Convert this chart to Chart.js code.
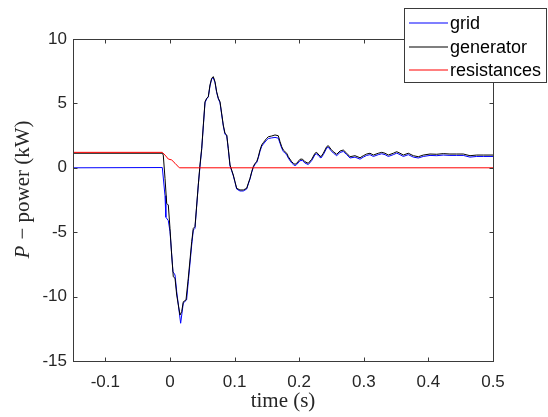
<!DOCTYPE html>
<html>
<head>
<meta charset="utf-8">
<script src="https://cdn.jsdelivr.net/npm/chart.js@4.4.1/dist/chart.umd.min.js"></script>
<style>
html,body{margin:0;padding:0;background:#fff;}
canvas{display:block;}
</style>
</head>
<body>
<canvas id="c" width="548" height="417"></canvas>
<script>
// ---- data (time in s, power in kW) ----
const seriesNames = ["grid", "generator", "resistances"];

const tGenerator = [-0.15, -0.0118, -0.0103, -0.0076, -0.005, -0.0025, 0.0001, 0.0027, 0.0052, 0.0079, 0.0105, 0.0156, 0.0182, 0.0207, 0.0249, 0.0284, 0.0337, 0.0362, 0.0388, 0.0439, 0.0465,
  0.0492, 0.0517, 0.0543, 0.0569, 0.0594, 0.0620, 0.0646, 0.0671, 0.0698, 0.0723, 0.0749, 0.0775, 0.0826, 0.0852, 0.0879, 0.0903, 0.0930, 0.0955, 0.0981, 0.1007,
  0.1033, 0.1084, 0.1136, 0.1188, 0.1213, 0.1239, 0.1266, 0.1290, 0.1317, 0.1343, 0.1368, 0.1394, 0.1420, 0.1445, 0.1498, 0.1523, 0.1575, 0.1626, 0.1677, 0.1704,
  0.1730, 0.1755, 0.1781, 0.1808, 0.1832, 0.1885, 0.1910, 0.1936, 0.1962, 0.2013, 0.2049, 0.2090, 0.2141, 0.2194, 0.2245, 0.2271, 0.2307, 0.2338, 0.2374, 0.2426,
  0.2451, 0.2493, 0.2528, 0.2581, 0.2632, 0.2683, 0.2736, 0.2787, 0.2864, 0.2942, 0.2993, 0.3045, 0.3096, 0.3148, 0.3225, 0.3278, 0.3329, 0.3380, 0.3457, 0.3510,
  0.3561, 0.3612, 0.3689, 0.3767, 0.3844, 0.3921, 0.4025, 0.4129, 0.4231, 0.4334, 0.4438, 0.4540, 0.4644, 0.4748, 0.4850, 0.4954, 0.5];
const pGenerator = [1.13, 1.13, 0.99, -0.82, -2.76, -2.89, -4.70, -6.77, -8.46, -8.58, -9.88, -11.43, -11.17, -10.40, -10.26, -8.58, -5.74, -4.70, -4.57, -1.34, 0.22,
  1.51, 3.32, 5.13, 5.40, 5.52, 6.43, 6.95, 7.08, 6.68, 5.91, 5.40, 5.13, 3.32, 2.68, 2.55, 1.51, 0.22, -0.17, -0.56, -1.08,
  -1.59, -1.72, -1.72, -1.59, -1.20, -0.82, -0.30, 0.09, 0.35, 0.47, 0.86, 1.38, 1.77, 1.95, 2.29, 2.41, 2.47, 2.55, 2.49, 2.03,
  1.64, 1.38, 1.25, 1.13, 0.86, 0.47, 0.35, 0.27, 0.35, 0.66, 0.68, 0.47, 0.35, 0.66, 1.13, 1.20, 0.99, 0.86, 1.13, 1.64,
  1.72, 1.44, 1.25, 1.05, 1.30, 1.38, 1.13, 0.86, 0.94, 0.78, 0.94, 1.07, 1.13, 0.99, 1.13, 1.20, 1.13, 0.99, 1.13, 1.25,
  1.13, 0.99, 1.13, 0.94, 0.86, 0.99, 1.07, 1.05, 1.10, 1.07, 1.07, 1.07, 0.94, 0.99, 0.99, 0.99, 0.99];

const tGrid = [-0.15, -0.0118, -0.0076, -0.0063, -0.0025, 0.0001, 0.0047, 0.0079, 0.0105, 0.0166, 0.0207, 0.0258, 0.0284, 0.0337, 0.0362, 0.0388, 0.0439, 0.0465,
  0.0492, 0.0517, 0.0543, 0.0569, 0.0594, 0.0620, 0.0646, 0.0671, 0.0698, 0.0723, 0.0749, 0.0775, 0.0826, 0.0852, 0.0879, 0.0903, 0.0930, 0.0955, 0.0981, 0.1007,
  0.1033, 0.1084, 0.1136, 0.1188, 0.1213, 0.1239, 0.1266, 0.1290, 0.1317, 0.1343, 0.1368, 0.1394, 0.1420, 0.1445, 0.1498, 0.1523, 0.1575, 0.1626, 0.1677, 0.1704,
  0.1730, 0.1755, 0.1781, 0.1808, 0.1832, 0.1885, 0.1910, 0.1936, 0.1962, 0.2013, 0.2049, 0.2090, 0.2141, 0.2194, 0.2245, 0.2271, 0.2307, 0.2338, 0.2374, 0.2426,
  0.2451, 0.2493, 0.2528, 0.2581, 0.2632, 0.2683, 0.2736, 0.2787, 0.2864, 0.2942, 0.2993, 0.3045, 0.3096, 0.3148, 0.3225, 0.3278, 0.3329, 0.3380, 0.3457, 0.3510,
  0.3561, 0.3612, 0.3689, 0.3767, 0.3844, 0.3921, 0.4025, 0.4129, 0.4231, 0.4334, 0.4438, 0.4540, 0.4644, 0.4748, 0.4850, 0.4954, 0.5];
const pGrid = [0, 0.02, -2.17, -3.83, -4.10, -4.95, -8.06, -8.32, -9.62, -12.07, -10.50, -10.26, -8.84, -6.00, -4.83, -4.70, -1.34, 0.09,
  1.45, 3.25, 5.05, 5.35, 5.50, 6.35, 6.90, 7.00, 6.60, 5.85, 5.35, 5.05, 3.25, 2.60, 2.50, 1.45, 0.15, -0.22, -0.62, -1.12,
  -1.65, -1.80, -1.80, -1.65, -1.26, -0.88, -0.36, 0.02, 0.28, 0.40, 0.78, 1.28, 1.66, 1.84, 2.16, 2.27, 2.32, 2.36, 2.30, 1.90,
  1.52, 1.27, 1.13, 1.01, 0.75, 0.37, 0.25, 0.17, 0.25, 0.55, 0.57, 0.37, 0.25, 0.56, 1.02, 1.09, 0.88, 0.76, 1.02, 1.53,
  1.60, 1.33, 1.15, 0.94, 1.19, 1.27, 1.02, 0.76, 0.83, 0.67, 0.83, 0.96, 1.02, 0.88, 1.02, 1.09, 1.02, 0.88, 1.02, 1.14,
  1.02, 0.88, 1.02, 0.83, 0.76, 0.88, 0.96, 0.94, 0.99, 0.96, 0.96, 0.96, 0.83, 0.88, 0.88, 0.88, 0.88];

const tResistances = [-0.15, -0.0118, -0.0076, -0.0025, 0.0027, 0.0079, 0.0146, 0.5];
const pResistances = [1.2, 1.2, 0.99, 0.68, 0.61, 0.35, 0.0, 0.0];

const xTickValues = [-0.1, 0, 0.1, 0.2, 0.3, 0.4, 0.5];
const xTickLabels = ["-0.1", "0", "0.1", "0.2", "0.3", "0.4", "0.5"];
const yTickValues = [-15, -10, -5, 0, 5, 10];
const yTickLabels = ["-15", "-10", "-5", "0", "5", "10"];
const xLimits = [-0.15, 0.5];
const yLimits = [-15, 10];
const xTitle = "time (s)";
const yTitleVar = "P";
const yTitleRest = " \u2212 power (kW)";

// ---- styling ----
const AXIS = "#3a3a3a";
const TICKTXT = "#262626";
const SANS = "'Liberation Sans', Arial, sans-serif";
const SERIF = "'Liberation Serif', 'Times New Roman', serif";
const colors = ["#0000ff", "#000000", "#ff0000"];

const pts = (t, p) => t.map((v, i) => ({x: v, y: p[i]}));

const framePlugin = {
  id: 'frame',
  afterDraw(chart) {
    const {ctx, chartArea: a, scales: {x, y}} = chart;
    ctx.save();
    // box
    ctx.strokeStyle = AXIS;
    ctx.lineWidth = 1;
    const L = Math.round(a.left) + 0.5, T = Math.round(a.top) + 0.5;
    const R = Math.round(a.right) + 0.5, B = Math.round(a.bottom) + 0.5;
    ctx.strokeRect(L, T, R - L, B - T);
    // inward ticks
    ctx.beginPath();
    const tl = 4;
    xTickValues.forEach(v => {
      const px = Math.round(x.getPixelForValue(v)) + 0.5;
      ctx.moveTo(px, B); ctx.lineTo(px, B - tl);
      ctx.moveTo(px, T); ctx.lineTo(px, T + tl);
    });
    yTickValues.forEach(v => {
      const py = Math.round(y.getPixelForValue(v)) + 0.5;
      ctx.moveTo(L, py); ctx.lineTo(L + tl, py);
      ctx.moveTo(R, py); ctx.lineTo(R - tl, py);
    });
    ctx.stroke();

    // y title with italic P
    ctx.save();
    ctx.translate(23, 190);
    ctx.rotate(-Math.PI / 2);
    ctx.fillStyle = TICKTXT;
    ctx.textBaseline = 'middle';
    ctx.textAlign = 'left';
    const fI = "italic 21px " + SERIF, fN = "21px " + SERIF;
    ctx.font = fI; const w1 = ctx.measureText(yTitleVar).width;
    ctx.font = fN; const w2 = ctx.measureText(yTitleRest).width;
    const start = -(w1 + w2) / 2;
    ctx.font = fI; ctx.fillText(yTitleVar, start, 0);
    ctx.font = fN; ctx.fillText(yTitleRest, start + w1 + 1, 0);
    ctx.restore();

    // legend
    const bx = 404.5, by = 8.5, bw = 142, bh = 74;
    ctx.fillStyle = '#ffffff';
    ctx.fillRect(bx, by, bw, bh);
    ctx.strokeStyle = AXIS;
    ctx.lineWidth = 1;
    ctx.strokeRect(bx, by, bw, bh);
    const rows = [23, 47, 70];
    ctx.font = "18px " + SANS;
    ctx.textBaseline = 'middle';
    ctx.textAlign = 'left';
    seriesNames.forEach((name, i) => {
      ctx.strokeStyle = colors[i];
      ctx.lineWidth = 1.2;
      ctx.beginPath();
      ctx.moveTo(409, rows[i]);
      ctx.lineTo(448, rows[i]);
      ctx.stroke();
      ctx.fillStyle = '#000000';
      ctx.fillText(name, 450, rows[i] + 1);
    });
    ctx.restore();
  }
};

new Chart(document.getElementById('c'), {
  type: 'line',
  data: {
    datasets: [
      {label: seriesNames[0], data: pts(tGrid, pGrid), borderColor: colors[0], order: 3},
      {label: seriesNames[1], data: pts(tGenerator, pGenerator), borderColor: colors[1], order: 2},
      {label: seriesNames[2], data: pts(tResistances, pResistances), borderColor: colors[2], order: 1}
    ].map(d => Object.assign(d, {borderWidth: 1, pointRadius: 0, tension: 0, fill: false}))
  },
  options: {
    responsive: false,
    animation: false,
    events: [],
    layout: {padding: {top: 39, right: 55, left: 0, bottom: 0}},
    plugins: {legend: {display: false}, tooltip: {enabled: false}},
    scales: {
      x: {
        type: 'linear',
        min: xLimits[0], max: xLimits[1],
        grid: {display: false, drawTicks: false},
        border: {display: false},
        afterBuildTicks: s => { s.ticks = xTickValues.map(v => ({value: v})); },
        afterFit: s => { s.height = 56; },
        ticks: {
          autoSkip: false, maxRotation: 0, padding: 11,
          color: TICKTXT, font: {family: SANS, size: 17},
          callback: (v, i) => xTickLabels[i]
        },
        title: {display: true, text: xTitle, color: TICKTXT, padding: {top: 0, bottom: 3},
                font: {family: SERIF, size: 21}}
      },
      y: {
        type: 'linear',
        min: yLimits[0], max: yLimits[1],
        grid: {display: false, drawTicks: false},
        border: {display: false},
        afterBuildTicks: s => { s.ticks = yTickValues.map(v => ({value: v})); },
        afterFit: s => { s.width = 73; },
        ticks: {
          autoSkip: false, padding: 6,
          color: TICKTXT, font: {family: SANS, size: 17},
          callback: (v, i) => yTickLabels[i]
        }
      }
    }
  },
  plugins: [framePlugin]
});
</script>
</body>
</html>
